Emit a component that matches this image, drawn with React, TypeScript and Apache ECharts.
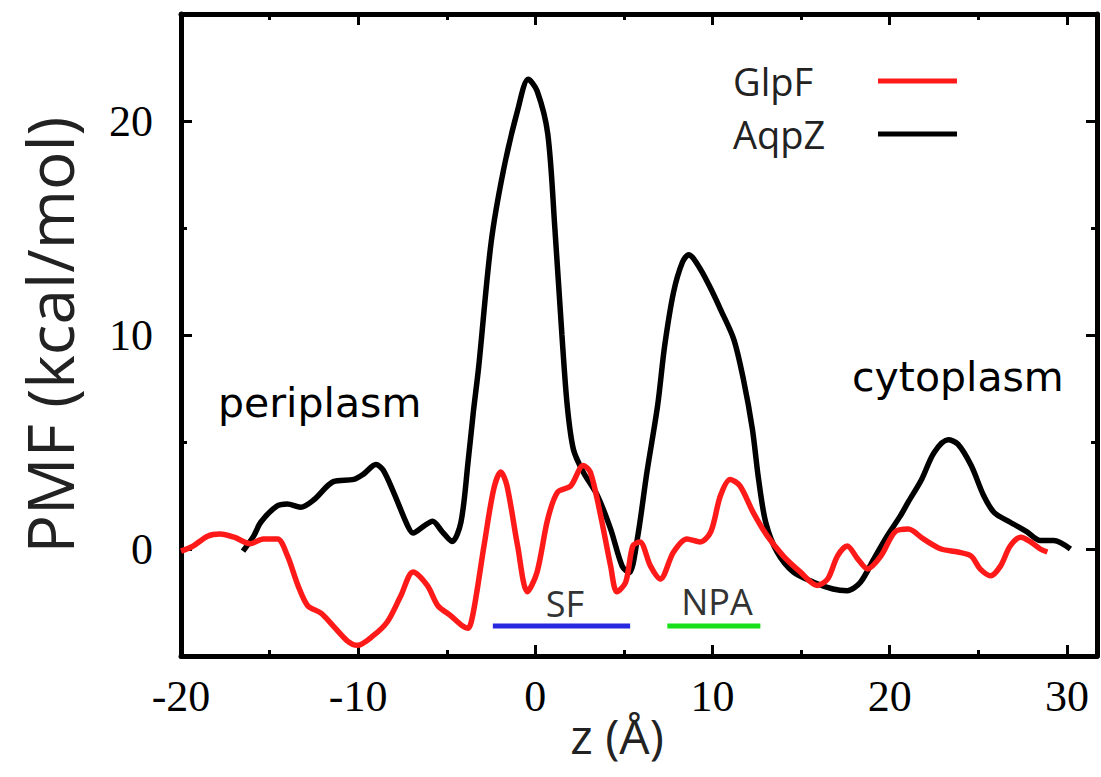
import React, { useEffect, useRef } from "react";
import * as echarts from "echarts";

// ---- axis ranges & ticks ----
const X_MIN = -20;
const X_MAX = 31.7;
const Y_MIN = -5;
const Y_MAX = 25;
const xMajorTicks = [-20, -10, 0, 10, 20, 30];
const xMinorTicks = [-15, -5, 5, 15, 25];
const yMajorTicks = [0, 10, 20];
const yMinorTicks = [5, 15];

// ---- AqpZ (black) ----
const aqpzZ = [
  -16.5, -15.9, -15.5, -14.6, -14.0, -13.25, -12.5, -11.4, -10.25, -9.7, -9.0, -8.6, -8.0, -7.2, -6.9,
  -6.3, -5.8, -5.25, -4.7, -4.2, -3.8, -3.5, -3.2, -2.5, -1.8, -1.0, -0.4, 0.1, 0.7, 1.1, 1.5, 1.8,
  2.15, 2.7, 3.5, 4.25, 4.9, 5.3, 5.75, 6.3, 6.9, 7.3, 7.8, 8.3, 8.65, 9.3, 10.0, 10.45, 11.2, 11.75,
  12.25, 12.6, 13.0, 13.65, 14.55, 15.7, 16.8, 17.6, 18.35, 19.1, 19.85, 20.6, 21.05, 21.8, 22.5,
  23.3, 23.85, 24.6, 25.3, 25.9, 26.8, 27.75, 28.5, 29.25, 30.2,
];
const aqpzPMF = [
  -0.1, 0.6, 1.25, 2.0, 2.1, 1.95, 2.3, 3.15, 3.25, 3.5, 3.95, 3.7, 2.65, 1.07, 0.75,
  1.07, 1.3, 0.8, 0.35, 1.25, 4.05, 6.4, 8.5, 14.3, 17.7, 20.5, 21.95, 21.4, 19.4, 15.0, 10.0, 6.7,
  4.65, 3.6, 2.5, 0.93, -0.8, -1.1, 0.45, 3.6, 6.7, 9.5, 12.0, 13.4, 13.75, 13.1, 12.0, 11.2, 9.8, 7.9,
  5.6, 3.25, 1.25, -0.15, -1.07, -1.55, -1.87, -1.95, -1.55, -0.47, 0.6, 1.55, 2.2, 3.25, 4.5,
  5.1, 4.9, 3.9, 2.5, 1.7, 1.25, 0.8, 0.4, 0.4, 0.0,
];

// ---- GlpF (red) ----
const glpfZ = [
  -20, -19.3, -18.5, -17.8, -17.0, -16.1, -15.35, -14.55, -14.0, -13.4, -12.85, -12.1, -11.4, -10.6,
  -10.05, -9.15, -8.35, -7.6, -6.9, -6.1, -5.5, -4.8, -4.1, -3.8, -3.5, -2.9, -2.35, -1.95, -1.6, -1.0,
  -0.45, 0.1, 0.7, 1.25, 2.0, 2.7, 3.1, 3.65, 4.25, 4.6, 5.1, 5.5, 5.9, 6.5, 7.05, 7.8, 8.55, 9.3, 9.9,
  10.45, 11.0, 11.55, 12.3, 13.1, 14.0, 14.95, 15.9, 16.5, 17.05, 17.6, 18.2, 18.75, 19.5, 20.3, 21.05,
  21.9, 22.9, 23.85, 24.6, 25.1, 25.7, 26.25, 26.8, 27.4, 27.95, 28.5, 28.9,
];
const glpfPMF = [
  -0.1, 0.15, 0.6, 0.7, 0.55, 0.25, 0.47, 0.47, -0.3, -1.7, -2.65, -3.0, -3.6, -4.3,
  -4.5, -4.05, -3.4, -2.2, -1.07, -1.7, -2.65, -3.1, -3.6, -3.7, -2.95, 0.14, 2.8, 3.6, 2.95, 0.14,
  -2.0, -1.07, 1.4, 2.65, 2.95, 3.9, 3.6, 1.7, -0.8, -2.0, -1.55, 0.14, 0.33, -0.8, -1.4, -0.14, 0.47, 0.33, 0.8,
  2.5, 3.25, 2.95, 1.7, 0.6, -0.33, -1.07, -1.7, -1.4, -0.33, 0.14, -0.47, -0.93, -0.33, 0.8, 0.93,
  0.47, 0.0, -0.14, -0.33, -0.93, -1.25, -0.8, 0.14, 0.55, 0.33, 0.0, -0.14,
];

// ---- region bars (SF / NPA) ----
const sfRange = [-2.4, 5.35];
const npaRange = [7.45, 12.7];
const regionLevel = -3.6;

const zip = (xs: number[], ys: number[]) => xs.map((x, i) => [x, ys[i]]);

const tickFont = "'Liberation Serif', 'Times New Roman', serif";
const sansFont = "'Open Sans', 'DejaVu Sans', sans-serif";

function xAxisDef(position: "top" | "bottom", ticks: number[], len: number, main: boolean, labeled: boolean) {
  return {
    type: "value",
    position,
    min: X_MIN,
    max: X_MAX,
    splitLine: { show: false },
    axisLine: { show: main, onZero: false, lineStyle: { color: "#000", width: 5 } },
    axisTick: { show: true, inside: true, length: len, customValues: ticks, lineStyle: { color: "#000", width: 3 } },
    axisLabel: labeled
      ? { show: true, customValues: ticks, margin: 18, fontSize: 44, fontFamily: tickFont, color: "#000" }
      : { show: false },
    ...(labeled
      ? {
          name: "z (Å)",
          nameLocation: "middle",
          nameGap: 54,
          nameMoveOverlap: false,
          nameTextStyle: { fontSize: 48, lineHeight: 50, fontFamily: sansFont, color: "#222", padding: [0, 44, 0, 0] },
        }
      : {}),
  };
}

function yAxisDef(position: "left" | "right", ticks: number[], len: number, main: boolean, labeled: boolean) {
  return {
    type: "value",
    position,
    min: Y_MIN,
    max: Y_MAX,
    splitLine: { show: false },
    axisLine: { show: main, onZero: false, lineStyle: { color: "#000", width: 5 } },
    axisTick: { show: true, inside: true, length: len, customValues: ticks, lineStyle: { color: "#000", width: 3 } },
    axisLabel: labeled
      ? { show: true, customValues: ticks, margin: 28, fontSize: 44, fontFamily: tickFont, color: "#000" }
      : { show: false },
    ...(labeled
      ? {
          name: "PMF (kcal/mol)",
          nameLocation: "middle",
          nameGap: 100,
          nameMoveOverlap: false,
          nameTextStyle: { fontSize: 64, fontFamily: sansFont, color: "#222" },
        }
      : {}),
  };
}

export default function App() {
  const ref = useRef<HTMLDivElement>(null);

  useEffect(() => {
    if (!ref.current) return;
    const chart = echarts.init(ref.current, undefined, { renderer: "svg" });
    const option: any = {
      animation: false,
      backgroundColor: "#ffffff",
      grid: { left: 181, right: 4, top: 14, bottom: 121, containLabel: false },
      legend: {
        data: ["GlpF", "AqpZ"],
        orient: "vertical",
        left: 728,
        top: 57,
        align: "right",
        icon: "rect",
        itemWidth: 79,
        itemHeight: 5,
        itemGap: 15,
        formatter: "{t|{name}}",
        textStyle: {
          rich: {
            t: { width: 140, align: "left", fontSize: 38, fontFamily: sansFont, color: "#222", lineHeight: 40 },
          },
        },
      },
      xAxis: [
        xAxisDef("bottom", xMajorTicks, 11, true, true),
        xAxisDef("top", xMajorTicks, 11, true, false),
        xAxisDef("bottom", xMinorTicks, 6, false, false),
        xAxisDef("top", xMinorTicks, 6, false, false),
      ],
      yAxis: [
        yAxisDef("left", yMajorTicks, 11, true, true),
        yAxisDef("right", yMajorTicks, 11, true, false),
        yAxisDef("left", yMinorTicks, 6, false, false),
        yAxisDef("right", yMinorTicks, 6, false, false),
      ],
      series: [
        {
          name: "AqpZ",
          type: "line",
          data: zip(aqpzZ, aqpzPMF),
          showSymbol: false,
          smooth: 0.3,
          color: "#000000",
          lineStyle: { color: "#000000", width: 5.5 },
          z: 3,
        },
        {
          name: "GlpF",
          type: "line",
          data: zip(glpfZ, glpfPMF),
          showSymbol: false,
          smooth: 0.3,
          color: "#ff1a1a",
          lineStyle: { color: "#ff1a1a", width: 5.5 },
          z: 4,
        },
        {
          name: "SF",
          type: "line",
          data: sfRange.map((z) => [z, regionLevel]),
          showSymbol: false,
          color: "#2828e0",
          lineStyle: { color: "#2828e0", width: 5 },
          z: 2,
        },
        {
          name: "NPA",
          type: "line",
          data: npaRange.map((z) => [z, regionLevel]),
          showSymbol: false,
          color: "#18e018",
          lineStyle: { color: "#18e018", width: 5 },
          z: 2,
        },
      ],
      graphic: [
        {
          type: "text",
          left: 218,
          top: 382,
          style: { text: "periplasm", font: "41px 'DejaVu Sans', sans-serif", fill: "#000" },
        },
        {
          type: "text",
          left: 852,
          top: 356,
          style: { text: "cytoplasm", font: "41px 'DejaVu Sans', sans-serif", fill: "#000" },
        },
        {
          type: "text",
          x: 565,
          y: 603,
          style: { text: "SF", font: "36px 'Open Sans', sans-serif", fill: "#333", textAlign: "center", textVerticalAlign: "middle" },
        },
        {
          type: "text",
          x: 717,
          y: 601,
          style: { text: "NPA", font: "36px 'Open Sans', sans-serif", fill: "#333", textAlign: "center", textVerticalAlign: "middle" },
        },
      ],
    };
    chart.setOption(option);
    return () => chart.dispose();
  }, []);

  return (
    <div
      ref={ref}
      style={{ position: "absolute", left: 0, top: 0, width: 1101, height: 777, background: "#fff" }}
    />
  );
}
